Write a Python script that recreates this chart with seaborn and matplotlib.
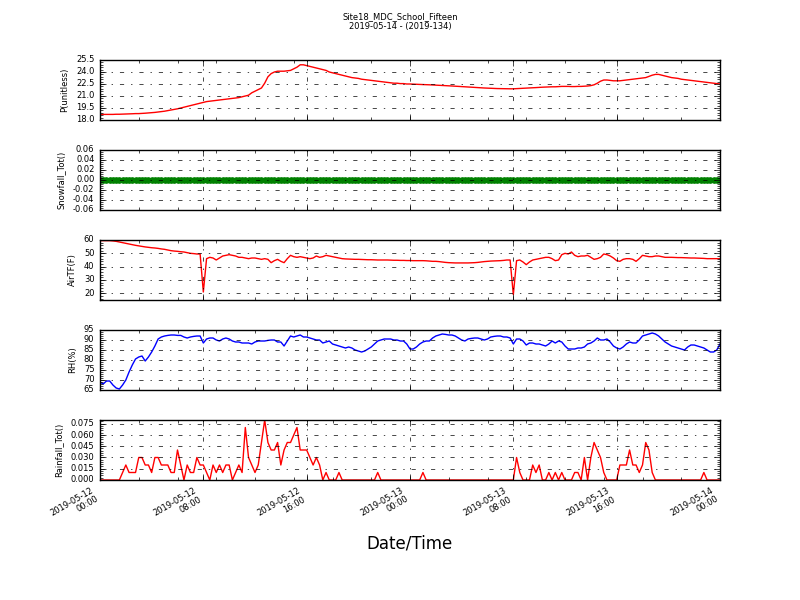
import numpy as np
import pandas as pd
import matplotlib
matplotlib.use("Agg")
import matplotlib.pyplot as plt
import matplotlib.dates as mdates
from matplotlib.ticker import MultipleLocator, AutoMinorLocator, FormatStrFormatter
import seaborn as sns

# 15-minute samples, 2019-05-12 00:00 -> 2019-05-14 00:00
times = pd.date_range("2019-05-12 00:00", "2019-05-14 00:00", freq="15min")

pressure = [
    18.70, 18.70, 18.70, 18.70, 18.70, 18.72, 18.72, 18.74,
    18.75, 18.76, 18.78, 18.80, 18.80, 18.82, 18.85, 18.88,
    18.90, 18.95, 19.00, 19.05, 19.10, 19.18, 19.25, 19.32,
    19.40, 19.50, 19.60, 19.70, 19.80, 19.90, 20.00, 20.10,
    20.20, 20.30, 20.35, 20.40, 20.45, 20.50, 20.55, 20.60,
    20.65, 20.70, 20.75, 20.80, 20.90, 21.00, 21.10, 21.40,
    21.60, 21.80, 22.00, 22.60, 23.40, 23.80, 24.00, 24.10,
    24.10, 24.10, 24.15, 24.20, 24.40, 24.60, 24.90, 24.90,
    24.80, 24.70, 24.60, 24.50, 24.40, 24.30, 24.20, 24.00,
    23.90, 23.80, 23.70, 23.60, 23.50, 23.40, 23.30, 23.25,
    23.20, 23.10, 23.05, 23.00, 22.95, 22.90, 22.85, 22.80,
    22.75, 22.70, 22.65, 22.60, 22.60, 22.55, 22.55, 22.50,
    22.50, 22.48, 22.46, 22.45, 22.43, 22.42, 22.40, 22.38,
    22.36, 22.34, 22.32, 22.30, 22.28, 22.25, 22.22, 22.20,
    22.18, 22.15, 22.12, 22.10, 22.08, 22.05, 22.02, 22.00,
    21.98, 21.96, 21.95, 21.93, 21.92, 21.90, 21.90, 21.90,
    21.90, 21.92, 21.95, 21.95, 21.97, 22.00, 22.02, 22.05,
    22.08, 22.10, 22.12, 22.15, 22.15, 22.15, 22.18, 22.20,
    22.20, 22.20, 22.18, 22.18, 22.20, 22.20, 22.22, 22.25,
    22.30, 22.40, 22.60, 22.85, 23.00, 23.00, 22.95, 22.90,
    22.90, 22.90, 22.95, 23.00, 23.05, 23.10, 23.15, 23.20,
    23.25, 23.30, 23.45, 23.60, 23.70, 23.70, 23.60, 23.50,
    23.40, 23.30, 23.25, 23.20, 23.10, 23.05, 23.00, 22.95,
    22.90, 22.85, 22.80, 22.75, 22.70, 22.65, 22.60, 22.55,
    22.50,
]

air_temp = [
    59.5, 59.5, 59.5, 59.5, 59.3, 59.0, 58.5, 58.0,
    57.5, 57.0, 56.5, 56.0, 55.6, 55.2, 54.8, 54.5,
    54.2, 54.0, 53.7, 53.3, 53.0, 52.5, 52.0, 51.7,
    51.5, 51.2, 51.0, 50.5, 50.0, 49.8, 49.5, 49.5,
    21.0, 46.0, 47.0, 46.5, 45.0, 46.5, 48.0, 48.5,
    49.0, 48.5, 48.0, 47.0, 47.0, 46.5, 46.0, 46.5,
    46.5, 46.0, 45.5, 46.0, 45.5, 43.0, 44.5, 45.5,
    44.0, 43.0, 46.0, 48.5, 47.5, 47.0, 47.5, 47.0,
    46.5, 46.0, 46.5, 48.0, 47.0, 47.5, 48.5, 48.0,
    47.5, 47.0, 46.5, 46.0, 45.8, 45.7, 45.6, 45.5,
    45.5, 45.4, 45.3, 45.2, 45.2, 45.1, 45.0, 45.0,
    45.0, 45.0, 44.9, 44.8, 44.8, 44.7, 44.7, 44.6,
    44.6, 44.5, 44.5, 44.5, 44.5, 44.4, 44.2, 44.0,
    44.0, 43.8, 43.5, 43.2, 43.0, 42.9, 42.8, 42.8,
    42.8, 42.8, 42.8, 42.9, 43.0, 43.2, 43.5, 43.8,
    44.0, 44.2, 44.3, 44.4, 44.5, 44.7, 45.0, 45.0,
    19.0, 44.5, 45.0, 43.5, 41.5, 43.5, 45.0, 45.5,
    46.0, 46.5, 47.0, 47.0, 46.0, 44.5, 45.0, 49.0,
    50.0, 49.5, 51.0, 48.5, 47.5, 48.0, 48.0, 48.5,
    47.0, 45.5, 46.0, 47.0, 49.5, 49.0, 48.0, 46.5,
    44.5, 44.0, 45.5, 46.0, 46.0, 45.5, 44.0, 46.0,
    48.5, 48.0, 47.5, 47.5, 48.0, 48.0, 47.5, 47.0,
    47.0, 47.0, 46.9, 46.8, 46.8, 46.7, 46.6, 46.5,
    46.5, 46.4, 46.3, 46.2, 46.0, 46.0, 46.0, 46.0,
    46.0,
]

rh = [
    69.0, 68.0, 69.5, 69.5, 67.5, 66.0, 65.5, 67.5,
    70.0, 74.0, 77.5, 80.5, 81.5, 82.0, 79.5, 81.5,
    84.0, 87.0, 90.5, 91.5, 92.0, 92.3, 92.5, 92.5,
    92.3, 92.3, 91.5, 91.0, 91.5, 91.8, 92.0, 92.0,
    88.5, 90.5, 91.0, 91.0, 90.0, 89.5, 90.5, 91.0,
    90.5, 89.5, 89.0, 89.0, 88.5, 88.5, 88.5, 88.0,
    89.0, 89.5, 89.5, 89.5, 89.8, 90.0, 90.0, 89.0,
    89.0, 87.0, 89.5, 92.0, 91.5, 92.0, 92.5, 91.5,
    91.5, 91.0, 90.5, 90.0, 90.0, 88.5, 89.0, 89.5,
    88.0, 87.5, 87.0, 86.5, 86.0, 86.5, 86.0, 85.0,
    84.5, 84.0, 84.5, 85.5, 86.5, 88.0, 89.5, 90.0,
    90.5, 90.5, 90.5, 90.0, 90.0, 89.5, 89.5, 88.0,
    85.5, 85.5, 86.5, 88.0, 89.0, 89.5, 89.5, 91.0,
    92.0, 92.5, 93.0, 92.8, 92.5, 92.5, 92.0, 91.0,
    90.0, 89.5, 90.5, 90.8, 91.0, 91.0, 90.5, 90.0,
    90.5, 91.5, 91.8, 92.0, 92.0, 91.5, 91.5, 91.0,
    88.0, 90.5, 90.5, 89.5, 87.5, 88.5, 88.5, 88.0,
    88.0, 87.5, 87.0, 88.0, 89.5, 88.5, 89.5, 89.0,
    87.0, 85.5, 85.5, 85.5, 86.0, 86.0, 86.5, 88.0,
    88.5, 89.5, 91.0, 90.0, 90.0, 90.5, 89.0, 87.0,
    86.0, 85.5, 86.5, 88.0, 89.0, 88.5, 88.5, 90.0,
    92.0, 92.5, 93.0, 93.5, 93.0, 92.0, 90.5, 89.0,
    88.0, 87.0, 86.5, 86.0, 85.5, 85.0, 86.5, 87.5,
    87.5, 87.0, 86.5, 86.0, 85.0, 84.0, 84.0, 85.0,
    88.0,
]

rainfall = [
    0.00, 0.00, 0.00, 0.00, 0.00, 0.00, 0.00, 0.01,
    0.02, 0.01, 0.01, 0.01, 0.03, 0.03, 0.02, 0.02,
    0.01, 0.03, 0.03, 0.02, 0.02, 0.02, 0.01, 0.01,
    0.04, 0.02, 0.00, 0.02, 0.01, 0.01, 0.03, 0.02,
    0.02, 0.01, 0.00, 0.02, 0.01, 0.02, 0.01, 0.02,
    0.02, 0.00, 0.01, 0.02, 0.01, 0.07, 0.03, 0.02,
    0.01, 0.02, 0.05, 0.08, 0.05, 0.04, 0.04, 0.05,
    0.02, 0.04, 0.05, 0.05, 0.06, 0.07, 0.04, 0.04,
    0.04, 0.03, 0.02, 0.03, 0.02, 0.00, 0.01, 0.00,
    0.00, 0.00, 0.01, 0.00, 0.00, 0.00, 0.00, 0.00,
    0.00, 0.00, 0.00, 0.00, 0.00, 0.00, 0.01, 0.00,
    0.00, 0.00, 0.00, 0.00, 0.00, 0.00, 0.00, 0.00,
    0.00, 0.00, 0.00, 0.00, 0.01, 0.00, 0.00, 0.00,
    0.00, 0.00, 0.00, 0.00, 0.00, 0.00, 0.00, 0.00,
    0.00, 0.00, 0.00, 0.00, 0.00, 0.00, 0.00, 0.00,
    0.00, 0.00, 0.00, 0.00, 0.00, 0.00, 0.00, 0.00,
    0.00, 0.03, 0.01, 0.00, 0.00, 0.00, 0.02, 0.01,
    0.02, 0.00, 0.00, 0.01, 0.00, 0.01, 0.00, 0.01,
    0.00, 0.00, 0.00, 0.01, 0.01, 0.00, 0.03, 0.00,
    0.03, 0.05, 0.04, 0.03, 0.01, 0.00, 0.00, 0.00,
    0.00, 0.02, 0.02, 0.02, 0.04, 0.02, 0.02, 0.01,
    0.02, 0.05, 0.04, 0.01, 0.00, 0.00, 0.00, 0.00,
    0.00, 0.00, 0.00, 0.00, 0.00, 0.00, 0.00, 0.00,
    0.00, 0.00, 0.00, 0.01, 0.00, 0.00, 0.00, 0.00,
    0.00,
]

snowfall = [0.0] * len(times)

df = pd.DataFrame({
    "time": times,
    "P": pressure,
    "Snow": snowfall,
    "AirT": air_temp,
    "RH": rh,
    "Rain": rainfall,
})

plt.style.use("classic")
plt.rcParams["font.family"] = ["DejaVu Sans"]

fig, axes = plt.subplots(5, 1, figsize=(8, 6), dpi=100, sharex=True, facecolor="white")
fig.subplots_adjust(left=0.125, right=0.9, bottom=0.2, top=0.9, hspace=0.5)

# column, y label, colour, y limits, major step, tick format
panels = [
    ("P", "P(unitless)", "r", (18.0, 25.5), 1.5, "%.1f"),
    ("Snow", "Snowfall_Tot()", "g", (-0.06, 0.06), 0.02, "%.2f"),
    ("AirT", "AirTF(F)", "r", (15, 60), 10, "%d"),
    ("RH", "RH(%)", "b", (65, 95), 5, "%d"),
    ("Rain", "Rainfall_Tot()", "r", (0, 0.08), 0.015, "%.3f"),
]

for ax, (col, label, color, ylim, step, fmt) in zip(axes, panels):
    if col == "Snow":
        sns.lineplot(data=df, x="time", y=col, ax=ax, color=color, lw=1.5,
                     marker="o", markersize=4, markeredgecolor=color)
    else:
        sns.lineplot(data=df, x="time", y=col, ax=ax, color=color, lw=1.0)
    ax.set_ylim(ylim)
    ax.yaxis.set_major_locator(MultipleLocator(step))
    ax.yaxis.set_major_formatter(FormatStrFormatter(fmt))
    ax.yaxis.set_minor_locator(AutoMinorLocator(5))
    ax.set_ylabel(label, fontsize=6)
    ax.set_xlabel("")
    ax.tick_params(axis="both", which="major", labelsize=6)
    ax.grid(True, which="major", linestyle="-.", color="k", linewidth=0.5)

ax = axes[-1]
ax.set_xlim(times[0], times[-1])
ax.xaxis.set_major_locator(mdates.HourLocator(byhour=[0, 8, 16]))
ax.xaxis.set_minor_locator(mdates.HourLocator(byhour=range(0, 24, 3)))
ax.xaxis.set_major_formatter(mdates.DateFormatter("%Y-%m-%d\n%H:%M"))
plt.setp(ax.get_xticklabels(), rotation=30, ha="right")
ax.set_xlabel("Date/Time", fontsize=12, labelpad=6)

fig.suptitle("Site18_MDC_School_Fifteen\n2019-05-14 - (2019-134)", fontsize=6, y=0.98)

fig.savefig("out.png", dpi=100, facecolor="white")
